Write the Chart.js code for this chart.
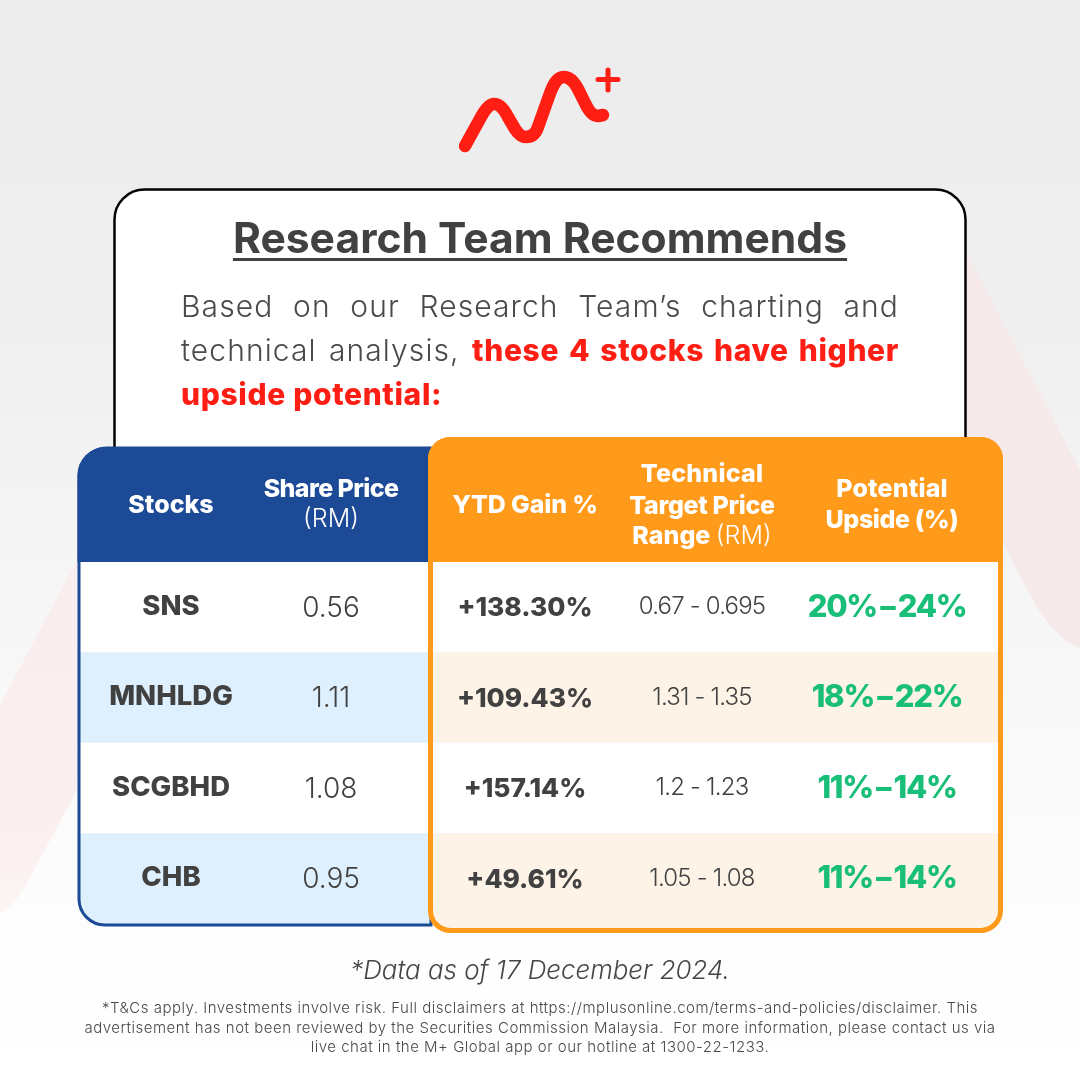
<!DOCTYPE html>
<html><head><meta charset="utf-8">
<style>
html,body{margin:0;padding:0;background:#fff}
#wrap{position:relative;width:1080px;height:1080px;overflow:hidden;font-family:Inter,sans-serif}
canvas{position:absolute;left:0;top:0}
.t{position:absolute;white-space:nowrap}
#title{left:0;width:1080px;top:212px;text-align:center;font-size:42.6px;font-weight:700;color:#414141;line-height:52px}
#title span{text-decoration:underline;text-decoration-thickness:3px;text-underline-offset:5px}
#para{left:181px;width:718px;top:284px;font-size:30px;letter-spacing:1.1px;line-height:44px;color:#4a4a4a;white-space:normal;text-align:justify;font-weight:300}
#para b{color:#FF1E14;font-weight:800;letter-spacing:.65px}
#note{left:0;width:1080px;top:954px;text-align:center;font-size:25.9px;font-style:italic;font-weight:300;color:#454545;line-height:32px}
#disc{left:40px;width:1000px;top:998px;text-align:center;font-size:15px;letter-spacing:.5px;font-weight:300;color:#4a4a4a;line-height:19.5px}
</style></head><body>
<div id="wrap">
<canvas id="c" width="1080" height="1080"></canvas>
<div class="t" id="title"><span>Research Team Recommends</span></div>
<div class="t" id="para">Based on our Research Team’s charting and technical analysis, <b>these 4 stocks have higher upside potential:</b></div>
<div class="t" id="note">*Data as of 17 December 2024.</div>
<div class="t" id="disc">*T&amp;Cs apply. Investments involve risk. Full disclaimers at https://mplusonline.com/terms-and-policies/disclaimer. This<br>advertisement has not been reviewed by the Securities Commission Malaysia.&nbsp; For more information, please contact us via<br>live chat in the M+ Global app or our hotline at 1300-22-1233.</div>
</div>
<script src="https://cdn.jsdelivr.net/npm/chart.js@4"></script>
<script>
const stocks = ['SNS','MNHLDG','SCGBHD','CHB'];
const sharePrice = [0.56,1.11,1.08,0.95];
const ytdGain = [138.30,109.43,157.14,49.61];
const targetLow = [0.67,1.31,1.2,1.05];
const targetHigh = [0.695,1.35,1.23,1.08];
const upsideLow = [20,18,11,11];
const upsideHigh = [24,22,14,14];

const FONT='Inter, sans-serif', DARK='#414141', BLUE='#1C4A97', ORANGE='#FF9A1B', GREEN='#19BE78', RED='#FF1E14';
const colX={stock:171,price:331,ytd:525,target:702,upside:887,upsideHead:892};

function rr(ctx,x,y,w,h,tl,tr,br,bl){ctx.beginPath();ctx.roundRect(x,y,w,h,[tl,tr,br,bl]);}
function txt(ctx,s,x,y,font,color,spacing){ctx.font=font;ctx.fillStyle=color;ctx.textAlign='center';ctx.textBaseline='middle';ctx.letterSpacing=(spacing||0)+'px';ctx.fillText(s,x,y);ctx.letterSpacing='0px';}
function mixed(ctx,a,b,x,y,fa,fb,color){
  ctx.font=fa;const wa=ctx.measureText(a).width;ctx.font=fb;const wb=ctx.measureText(b).width;
  const l=x-(wa+wb)/2;ctx.textAlign='left';ctx.textBaseline='middle';ctx.fillStyle=color;
  ctx.font=fa;ctx.fillText(a,l,y);ctx.font=fb;ctx.fillText(b,l+wa,y);
}

const page={id:'page',
 beforeDraw(ch){const c=ch.ctx;c.save();
  const g=c.createLinearGradient(0,0,0,1080);g.addColorStop(0,'#ECECEC');g.addColorStop(0.3,'#EFEFEF');g.addColorStop(0.55,'#F6F6F6');g.addColorStop(0.85,'#FDFDFD');g.addColorStop(1,'#FFFFFF');
  c.fillStyle=g;c.fillRect(0,0,1080,1080);
  c.fillStyle='#F6E9E9';
  c.beginPath();c.moveTo(960,240);c.lineTo(1080,470);c.lineTo(1080,648);c.bezierCurveTo(1060,640,1045,622,1033,600);c.lineTo(1003,543);c.lineTo(960,470);c.closePath();c.fill();
  const p=c.createLinearGradient(0,560,0,920);p.addColorStop(0,'#FAEDED');p.addColorStop(0.7,'#FBEEEE');p.addColorStop(1,'#FDF5F5');
  c.fillStyle=p;
  c.beginPath();c.moveTo(0,705);c.lineTo(85,545);c.lineTo(85,775);c.lineTo(27,883);c.bezierCurveTo(20,896,10,908,0,913);c.closePath();c.fill();
  c.strokeStyle=RED;c.lineCap='round';c.lineJoin='round';c.lineWidth=12.5;c.beginPath();
  c.moveTo(465,146);c.lineTo(481,117);c.bezierCurveTo(486,108,490,104,494,104);c.bezierCurveTo(500,104,504,109,508,117);
  c.lineTo(515,129);c.bezierCurveTo(519,135,522,137,526,137);c.bezierCurveTo(532,137,536,133,538,127);
  c.lineTo(548,99);c.bezierCurveTo(553,84,557,77,564,77);c.bezierCurveTo(571,77,576,84,581,95);
  c.lineTo(586,105);c.bezierCurveTo(590,113,594,116,598,116);c.lineTo(603,115);c.stroke();
  c.lineWidth=5;c.beginPath();c.moveTo(598,79.5);c.lineTo(618,79.5);c.moveTo(608,70);c.lineTo(608,90);c.stroke();
  rr(c,114.5,189.5,851,300,30,30,0,0);c.fillStyle='#fff';c.fill();c.strokeStyle='#000';c.lineWidth=2.5;c.stroke();
  c.restore();},
 beforeDatasetsDraw(ch){const c=ch.ctx;c.save();
  rr(c,430.5,439.5,570,491,20,20,20,20);c.fillStyle='#FDF3E7';c.fill();
  c.restore();},
 afterDatasetsDraw(ch){const c=ch.ctx,x=ch.scales.x,y=ch.scales.y;c.save();
  rr(c,79,448,352,477,28,0,0,26);c.strokeStyle=BLUE;c.lineWidth=3;c.stroke();
  rr(c,77.5,447,354,115,28,0,0,0);c.fillStyle=BLUE;c.fill();
  rr(c,430.5,439.5,570,491,20,20,20,20);c.strokeStyle=ORANGE;c.lineWidth=5;c.stroke();
  rr(c,428,437,575,125,22,22,0,0);c.fillStyle=ORANGE;c.fill();
  const W='#fff',HB='800 25px '+FONT,HL='300 25px '+FONT;
  const px=v=>x.getPixelForValue(v);
  txt(c,'Stocks',px(colX.stock),505,HB,W);
  txt(c,'Share Price',px(colX.price),489,HB,W,-0.6);
  txt(c,'(RM)',px(colX.price),519,HL,W);
  txt(c,'YTD Gain %',px(colX.ytd),505,HB,W,-0.15);
  txt(c,'Technical',px(colX.target),474,HB,W,0.2);
  txt(c,'Target Price',px(colX.target),506,HB,W,-0.35);
  mixed(c,'Range ','(RM)',px(colX.target),536,HB,HL,W);
  txt(c,'Potential',px(colX.upsideHead),489,HB,W,0.15);
  txt(c,'Upside (%)',px(colX.upsideHead),520,HB,W,-0.4);
  stocks.forEach((s,i)=>{const py=y.getPixelForValue(i);
    txt(c,s,px(colX.stock),py-1,'800 27.5px '+FONT,DARK);
    txt(c,sharePrice[i].toFixed(2),px(colX.price),py+1,'300 28px '+FONT,DARK);
    txt(c,'+'+ytdGain[i].toFixed(2)+'%',px(colX.ytd),py+1,'800 26.3px '+FONT,DARK);
    txt(c,targetLow[i]+' - '+targetHigh[i],px(colX.target),py,'300 24px '+FONT,DARK,-0.8);
    txt(c,upsideLow[i]+'%\u2009\u2013\u2009'+upsideHigh[i]+'%',px(colX.upside),py,'800 31px '+FONT,GREEN,-1.3);
  });
  c.restore();}
};

const rows=['#FFFFFF','#DEF0FE','#FFFFFF','#DEF0FE'];
const rowsR=['#FFFFFF','#FDF3E7','#FFFFFF','#FDF3E7'];
new Chart(document.getElementById('c'),{
 type:'bar',
 data:{labels:stocks,datasets:[
  {label:'left',data:stocks.map(()=>[78,432]),backgroundColor:rows,borderWidth:0,
   borderRadius:c=>c.dataIndex===3?{bottomLeft:26,topLeft:0,topRight:0,bottomRight:0}:0,borderSkipped:false,grouped:false,barPercentage:1,categoryPercentage:1},
  {label:'right',data:stocks.map(()=>[430,1000]),backgroundColor:rowsR,borderWidth:0,grouped:false,barPercentage:1,categoryPercentage:1}
 ]},
 options:{indexAxis:'y',responsive:false,animation:false,devicePixelRatio:1,
  layout:{padding:{left:0,right:0,top:562,bottom:156}},
  plugins:{legend:{display:false},tooltip:{enabled:false},title:{display:false}},
  scales:{x:{type:'linear',min:0,max:1080,display:false},y:{type:'category',display:false}}},
 plugins:[page]
});
</script></body></html>
